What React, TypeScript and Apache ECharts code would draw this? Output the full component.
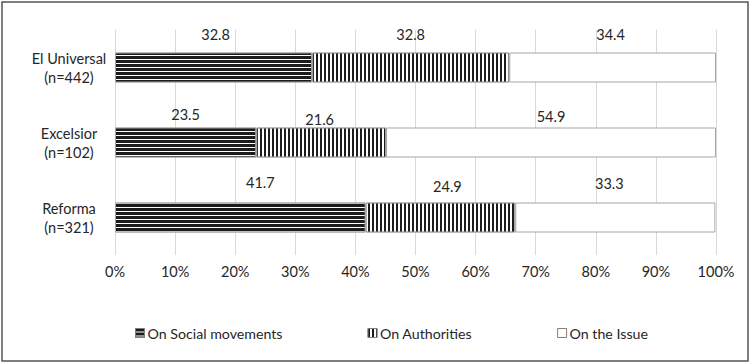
import React, { useEffect, useRef } from "react";
import * as echarts from "echarts";

// Newspapers (top to bottom) and the share of coverage for each focus
const newspapers = ["El Universal\n(n=442)", "Excelsior\n(n=102)", "Reforma\n(n=321)"];
const seriesNames = ["On Social movements", "On Authorities", "On the Issue"];
const socialMovements = [32.8, 23.5, 41.7];
const authorities = [32.8, 21.6, 24.9];
const theIssue = [34.4, 54.9, 33.3];
const tickValues = [0, 10, 20, 30, 40, 50, 60, 70, 80, 90, 100];

// Label nudges (dx, dy) per series, per newspaper
const labelNudges = [
  [[2, -9.5], [0, -4.5], [20, -11.5]],
  [[0, -9.5], [-1.5, 0.5], [7, -7.5]],
  [[-2, -9.5], [0, -2.5], [-6, -10.5]],
];

const FONT = "Lato, 'Open Sans', sans-serif";
const DARK = "#1c1c1c";
const EDGE = "#a6a6a6";

const decals = [
  // horizontal stripes
  { symbol: "rect", symbolSize: 1, dashArrayX: [1, 0], dashArrayY: [3, 1], color: DARK, rotation: 0 },
  // vertical stripes
  { symbol: "rect", symbolSize: 1, dashArrayX: [2, 2], dashArrayY: [1, 0], color: DARK, rotation: 0 },
  null,
];

export default function App() {
  const ref = useRef<HTMLDivElement>(null);

  useEffect(() => {
    document.body.style.margin = "0";
    const chart = echarts.init(ref.current!, null, { renderer: "svg" });
    const values = [socialMovements, authorities, theIssue];

    const series = values.map((vals, si) => ({
      name: seriesNames[si],
      type: "bar",
      stack: "total",
      barWidth: 30,
      itemStyle: {
        color: "#ffffff",
        borderColor: EDGE,
        borderWidth: 1,
        ...(decals[si] ? { decal: decals[si] } : {}),
      },
      label: {
        show: true,
        position: "top",
        distance: 0,
        color: "#262626",
        fontFamily: FONT,
        fontSize: 14.5,
        lineHeight: 17,
        formatter: (p: any) => p.value.toFixed(1),
      },
      emphasis: { disabled: true },
      data: vals.map((v, ci) => ({
        value: v,
        label: { offset: labelNudges[si][ci] },
      })),
    }));

    chart.setOption({
      animation: false,
      backgroundColor: "#ffffff",
      textStyle: { fontFamily: FONT },
      grid: { left: 115, right: 35, top: 30, bottom: 109 },
      xAxis: {
        type: "value",
        min: tickValues[0],
        max: tickValues[tickValues.length - 1],
        interval: 10,
        axisLine: { show: false },
        axisTick: { show: false },
        splitLine: { show: true, lineStyle: { color: "#d9d9d9", width: 1 } },
        axisLabel: {
          formatter: "{value}%",
          color: "#262626",
          fontFamily: FONT,
          fontSize: 14.5,
          margin: 9,
        },
      },
      yAxis: {
        type: "category",
        inverse: true,
        data: newspapers,
        axisLine: { show: false },
        axisTick: { show: false },
        axisLabel: {
          color: "#262626",
          fontFamily: FONT,
          fontSize: 14.5,
          lineHeight: 19,
          align: "center",
          margin: 46,
        },
      },
      legend: {
        left: 130,
        top: 321,
        itemWidth: 9,
        itemHeight: 9,
        itemGap: 85,
        itemStyle: { borderColor: "#7f7f7f", borderWidth: 1 },
        icon: "rect",
        textStyle: { color: "#262626", fontFamily: FONT, fontSize: 14.2, padding: [0, 0, 0, -2] },
        data: seriesNames,
      },
      graphic: [
        {
          type: "rect",
          shape: { x: 2, y: 2, width: 746, height: 359 },
          style: { fill: "none", stroke: "#555555", lineWidth: 1.5 },
          silent: true,
        },
      ],
      series,
    });

    return () => chart.dispose();
  }, []);

  return (
    <div
      ref={ref}
      style={{ position: "fixed", left: 0, top: 0, width: 751, height: 364 }}
    />
  );
}
